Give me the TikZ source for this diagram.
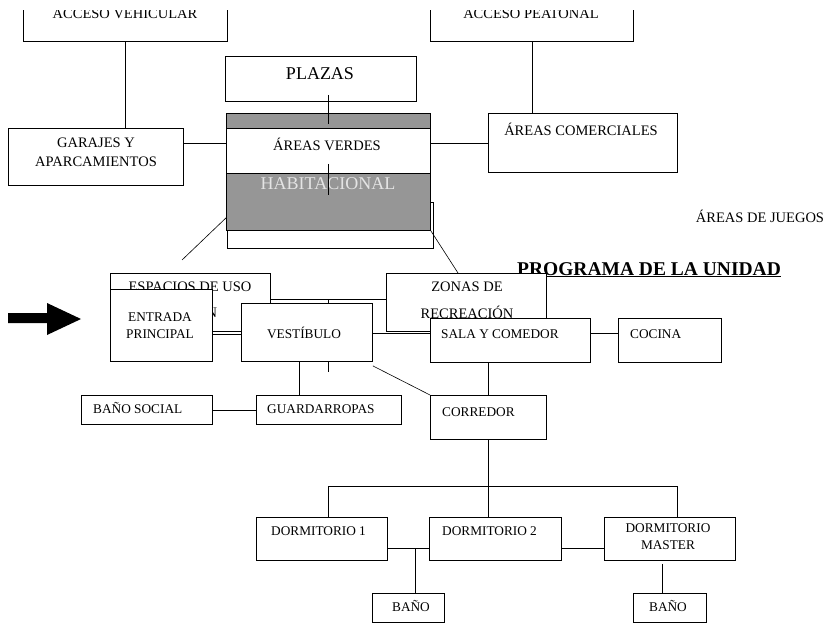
\documentclass[tikz,border=0pt]{standalone}
\usepackage{fontspec}
\setmainfont{Liberation Serif}
\usetikzlibrary{calc}
\definecolor{habgris}{RGB}{150,150,150}
\definecolor{habtexto}{RGB}{228,228,228}
\newcommand{\letrachica}{\fontsize{13.3}{17}\selectfont}
\newcommand{\letramedia}{\fontsize{14.5}{19}\selectfont}
\newcommand{\letragrande}{\fontsize{18}{22}\selectfont}
\tikzset{
  cell/.style={draw, fill=white, line width=0.9pt, inner sep=0pt, anchor=north west},
  txt/.style={inner sep=0pt, font=\letrachica},
  txtm/.style={inner sep=0pt, font=\letramedia},
  con/.style={line width=0.8pt},
}

\begin{document}
\begin{tikzpicture}[x=1pt, y=-1pt]
   \useasboundingbox (0,0) rectangle (830,626);
   \clip (0,11) rectangle (830,626);
   % Accesos
   \node[cell, minimum width=204, minimum height=51] (accveh) at (23,-10) {};
   \node[txtm, anchor=base] (accvehtxt) at (125,18.5) {ACCESO VEHICULAR};
   \node[cell, minimum width=203, minimum height=51] (accpea) at (430,-10) {};
   \node[txtm, anchor=base] (accpeatxt) at (531,18.5) {ACCESO PEATONAL};
   % Zona comunal
   \node[cell, minimum width=191, minimum height=45] (plazas) at (225,56) {};
   \node[txt, font=\letragrande, anchor=base] (plazastxt) at (320,80) {PLAZAS};
   \node[cell, minimum width=175, minimum height=57] (garajes) at (8,128) {};
   \node[txtm, align=center] (garajestxt) at (96,152.7) {GARAJES Y\\APARCAMIENTOS};
   \node[cell, minimum width=189, minimum height=59] (comerc) at (488,113) {};
   \node[txtm, anchor=base] (comerctxt) at (581,135) {ÁREAS COMERCIALES};
   \draw[con] (accveh.south) -- (accveh.south |- garajes.north);
   \draw[con] (accpea.south) -- (accpea.south |- comerc.north);
   % Habitacional
   \node[cell, minimum width=206, minimum height=46] (habbase) at (227,202) {};
   \node[cell, fill=habgris, minimum width=204, minimum height=117] (hab) at (226,113) {};
   \node[cell, minimum width=204, minimum height=45] (verdes) at (226,128) {};
   \node[txtm, anchor=base] (verdestxt) at (327,150) {ÁREAS VERDES};
   \node[txt, font=\letragrande, text=habtexto, anchor=base] (habtxt) at (328,189) {HABITACIONAL};
   \draw[con] ($(verdes.north |- plazas.south)+(0,-7)$) -- ($(verdes.north)+(0,-4)$);
   \draw[con] ($(verdes.south)+(0,-10)$) -- ($(verdes.south)+(0,21)$);
   \draw[con] (garajes.east |- comerc.west) -- (verdes.west |- comerc.west);
   \draw[con] (verdes.east |- comerc.west) -- (comerc.west);
   \node[txtm, anchor=base] (juegos) at (760,222) {ÁREAS DE JUEGOS};
   \node[inner sep=0pt, font=\fontsize{19.5}{22}\selectfont\bfseries, anchor=base] (titulo) at (649,275) {\underline{PROGRAMA DE LA UNIDAD}};
   % Espacios y zonas
   \coordinate (diagfin) at (182,260);
   \draw[line width=0.6pt] ($(hab.south west)+(0,-13)$) -- (diagfin);
   \node[cell, minimum width=160, minimum height=58] (espacios) at (110,273) {};
   \node[txtm, font=\fontsize{14.5}{26}\selectfont, align=center] (espaciostxt) at (190,300.2) {ESPACIOS DE USO\\COMÚN};
   \node[cell, minimum width=160, minimum height=58] (zonas) at (386,273) {};
   \node[txtm, font=\fontsize{14.5}{27}\selectfont, align=center] (zonastxt) at (467,300.7) {ZONAS DE\\RECREACIÓN};
   \draw[line width=0.6pt] (hab.south east) -- ($(zonas.north west)+(72,0)$);
   \draw[con] ($(espacios.north east)+(0,26)$) -- ($(zonas.north west)+(0,26)$);
   % Zona social
   \node[cell, minimum width=102, minimum height=72] (entrada) at (110,289) {};
   \node[txt, align=center] (entradatxt) at (160,326) {ENTRADA\\PRINCIPAL};
   \node[cell, minimum width=131, minimum height=58] (vest) at (241,303) {};
   \node[txt, anchor=base] (vesttxt) at (304,338) {VESTÍBULO};
   \node[cell, minimum width=160, minimum height=44] (sala) at (430,318) {};
   \node[txt, anchor=base west] (salatxt) at (441,338) {SALA Y COMEDOR};
   \node[cell, minimum width=103, minimum height=44] (cocina) at (618,318) {};
   \node[txt, anchor=base west] (cocinatxt) at (630,338) {COCINA};
   \draw[con] (verdes.south |- vest.north) -- ($(verdes.south |- vest.north)+(0,-4)$);
   \draw[con] (entrada.east |- 0,334) -- (vest.west |- 0,334);
   \draw[con] (vest.east |- 0,333) -- (sala.west |- 0,333);
   \draw[con] (sala.east |- 0,333) -- (cocina.west |- 0,333);
   % Servicios
   \node[cell, minimum width=131, minimum height=29] (bsocial) at (81,395) {};
   \node[txt, anchor=base west] (bsocialtxt) at (93,413) {BAÑO SOCIAL};
   \node[cell, minimum width=145, minimum height=29] (guard) at (256,395) {};
   \node[txt, anchor=base west] (guardtxt) at (267,413) {GUARDARROPAS};
   \node[cell, minimum width=116, minimum height=44] (corredor) at (430,395) {};
   \node[txt, anchor=base west] (corredortxt) at (442,416) {CORREDOR};
   \draw[con] (vest.south -| 299,0) -- (guard.north -| 299,0);
   \draw[con] (vest.south -| 328,0) -- ++(0,10);
   \draw[con] (bsocial.east) -- (guard.west);
   \draw[line width=0.6pt] ($(vest.south east)+(0,4)$) -- (corredor.north west);
   \draw[con] (corredor.north |- sala.south) -- (corredor.north);
   % Zona privada
   \node[cell, minimum width=131, minimum height=43] (dorm1) at (256,517) {};
   \node[txt, anchor=base west] (dorm1txt) at (271,535) {DORMITORIO 1};
   \node[cell, minimum width=132, minimum height=43] (dorm2) at (429,517) {};
   \node[txt, anchor=base west] (dorm2txt) at (442,535) {DORMITORIO 2};
   \node[cell, minimum width=131, minimum height=43] (master) at (604,517) {};
   \node[txt, align=center] (mastertxt) at (668,537) {DORMITORIO\\MASTER};
   \node[cell, minimum width=72, minimum height=29] (bano1) at (372,593) {};
   \node[txt, anchor=base] (bano1txt) at (411,611) {BAÑO};
   \node[cell, minimum width=73, minimum height=29] (bano2) at (633,593) {};
   \node[txt, anchor=base] (bano2txt) at (668,611) {BAÑO};
   \draw[con] (corredor.south) -- (corredor.south |- dorm2.north);
   \draw[con] (dorm1.north -| 328,0) |- (677,486) -- (master.north -| 677,0);
   \draw[con] (dorm1.east |- 0,548) -- (dorm2.west |- 0,548);
   \draw[con] (415,548) -- (bano1.north -| 415,0);
   \draw[con] (dorm2.east |- 0,548) -- (master.west |- 0,548);
   \draw[con] ($(master.south -| 662,0)+(0,3)$) -- (bano2.north -| 662,0);
   % Flecha de entrada
   \fill (8,313) -- (47,313) -- (47,303) -- (81,319) -- (47,335) -- (47,323) -- (8,323) -- cycle;
\end{tikzpicture}
\end{document}
